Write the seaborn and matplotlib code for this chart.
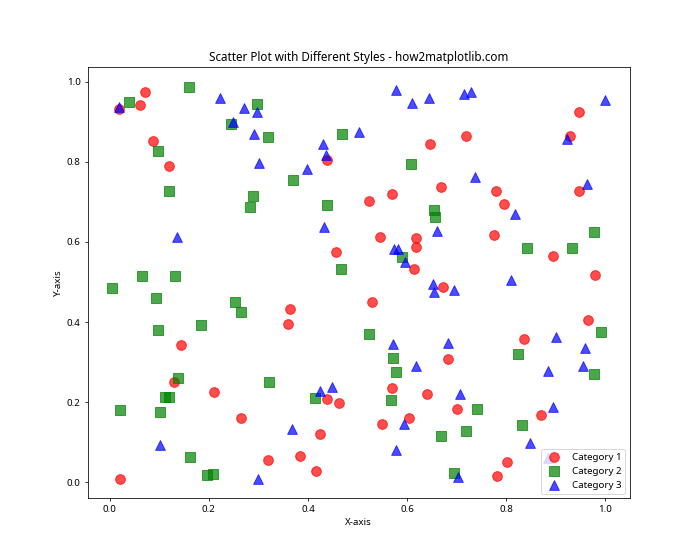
import matplotlib
matplotlib.use("Agg")
import matplotlib.pyplot as plt
import seaborn as sns
import pandas as pd

plt.rcParams['font.family'] = ['Noto Sans', 'DejaVu Sans']

cat1_x = [0.071, 0.061, 0.018, 0.088, 0.120, 0.144, 0.130, 0.210, 0.265, 0.021,
          0.319, 0.439, 0.647, 0.669, 0.570, 0.524, 0.946, 0.718, 0.929, 0.780,
          0.795, 0.946, 0.546, 0.619, 0.619, 0.457, 0.613, 0.673, 0.530, 0.364,
          0.360, 0.683, 0.776, 0.894, 0.980, 0.966, 0.835, 0.439, 0.463, 0.425,
          0.384, 0.417, 0.570, 0.641, 0.604, 0.550, 0.700, 0.871, 0.801, 0.782]
cat1_y = [0.973, 0.942, 0.932, 0.852, 0.790, 0.343, 0.251, 0.226, 0.161, 0.009,
          0.056, 0.805, 0.845, 0.738, 0.720, 0.702, 0.924, 0.865, 0.865, 0.727,
          0.695, 0.727, 0.613, 0.610, 0.588, 0.575, 0.533, 0.488, 0.451, 0.433,
          0.396, 0.309, 0.618, 0.565, 0.518, 0.406, 0.358, 0.209, 0.199, 0.121,
          0.067, 0.029, 0.236, 0.221, 0.161, 0.146, 0.184, 0.169, 0.052, 0.017]

cat2_x = [0.160, 0.039, 0.298, 0.245, 0.319, 0.098, 0.120, 0.289, 0.283, 0.469,
          0.370, 0.607, 0.439, 0.655, 0.657, 0.065, 0.132, 0.005, 0.094, 0.253,
          0.265, 0.098, 0.184, 0.589, 0.467, 0.524, 0.572, 0.978, 0.841, 0.932,
          0.991, 0.823, 0.138, 0.112, 0.120, 0.021, 0.102, 0.162, 0.197, 0.209,
          0.322, 0.578, 0.415, 0.568, 0.669, 0.978, 0.742, 0.718, 0.831, 0.694]
cat2_y = [0.987, 0.950, 0.944, 0.895, 0.863, 0.827, 0.727, 0.715, 0.686, 0.870,
          0.755, 0.795, 0.692, 0.680, 0.661, 0.515, 0.515, 0.486, 0.461, 0.451,
          0.424, 0.381, 0.393, 0.563, 0.533, 0.371, 0.310, 0.625, 0.585, 0.585,
          0.376, 0.321, 0.261, 0.214, 0.214, 0.181, 0.176, 0.064, 0.019, 0.022,
          0.251, 0.276, 0.211, 0.206, 0.116, 0.271, 0.184, 0.129, 0.144, 0.024]

cat3_x = [0.018, 0.223, 0.271, 0.298, 0.249, 0.292, 0.302, 0.577, 0.609, 0.645,
          0.504, 0.431, 0.436, 0.399, 0.715, 0.729, 1.000, 0.922, 0.738, 0.964,
          0.817, 0.136, 0.433, 0.661, 0.574, 0.582, 0.595, 0.653, 0.655, 0.572,
          0.683, 0.809, 0.694, 0.900, 0.958, 0.102, 0.300, 0.619, 0.425, 0.449,
          0.368, 0.593, 0.578, 0.884, 0.954, 0.706, 0.894, 0.849, 0.702, 0.884]
cat3_y = [0.937, 0.958, 0.935, 0.925, 0.900, 0.870, 0.796, 0.978, 0.946, 0.958,
          0.874, 0.845, 0.817, 0.781, 0.968, 0.974, 0.955, 0.858, 0.761, 0.744,
          0.670, 0.613, 0.636, 0.626, 0.582, 0.582, 0.549, 0.494, 0.474, 0.345,
          0.349, 0.506, 0.481, 0.364, 0.335, 0.094, 0.009, 0.290, 0.228, 0.238,
          0.134, 0.145, 0.081, 0.278, 0.290, 0.220, 0.188, 0.098, 0.014, 0.062]

labels = ["Category 1", "Category 2", "Category 3"]
colors = ["red", "green", "blue"]
markers = ["o", "s", "^"]

fig, ax = plt.subplots(figsize=(10, 8), dpi=70)
series = [(cat1_x, cat1_y), (cat2_x, cat2_y), (cat3_x, cat3_y)]
for (xs, ys), lab, col, mk in zip(series, labels, colors, markers):
    df = pd.DataFrame({"x": xs, "y": ys})
    sns.scatterplot(data=df, x="x", y="y", ax=ax, color=col, marker=mk, s=100,
                    alpha=0.7, edgecolor=col, linewidth=1.0, label=lab)

ax.set_title("Scatter Plot with Different Styles - how2matplotlib.com")
ax.set_xlabel("X-axis")
ax.set_ylabel("Y-axis")
ax.legend(loc="lower right")
fig.savefig("out.png", dpi=70)
